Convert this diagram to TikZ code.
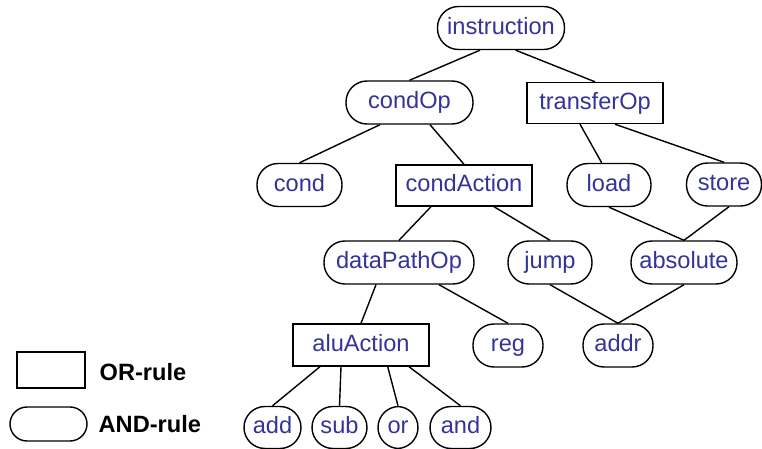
\documentclass[tikz,border=0pt]{standalone}
\usepackage{fontspec}
\setmainfont{Liberation Sans}
\usepackage{xcolor}
\usepackage{tikz}
\usetikzlibrary{positioning}
\definecolor{rulename}{RGB}{51,51,153}

\begin{document}
\begin{tikzpicture}[x=0.5pt, y=-0.5pt, line width=0.7pt,
    rulebox/.style={draw=black, inner sep=0pt, text=rulename,
        font=\fontsize{11.8}{14}\selectfont, text height=8.6pt, text depth=2.4pt},
    andnode/.style={rulebox, rounded corners=10.5pt, minimum height=21.5pt},
    ornode/.style={rulebox, minimum height=20.5pt},
    legendtext/.style={font=\fontsize{11.8}{14}\selectfont\bfseries, anchor=west, inner sep=0pt}]
    \useasboundingbox (0,0) rectangle (762,449);

    % rule nodes, top to bottom
    \node[andnode, minimum width=63.5pt] (instr)      at (501,28)      {instruction};
    \node[andnode, minimum width=63.5pt] (condOp)     at (409.5,102.5) {condOp};
    \node[ornode,  minimum width=68pt]   (transferOp) at (595,103)     {transferOp};

    \node[andnode, minimum width=42.5pt] (cond)       at (299.5,185)   {cond};
    \node[ornode,  minimum width=68pt]   (condAction) at (464,185.5)   {condAction};
    \node[andnode, minimum width=42pt]   (load)       at (609,185)     {load};
    \node[andnode, minimum width=37.5pt] (store)      at (724,184.5)   {store};

    \node[andnode, minimum width=75pt]   (dataPathOp) at (399,262.5)   {dataPathOp};
    \node[andnode, minimum width=42pt]   (jump)       at (550,262.5)   {jump};
    \node[andnode, minimum width=53pt]   (absolute)   at (684,262.5)   {absolute};

    \node[ornode,  minimum width=68pt, minimum height=21pt] (aluAction) at (361,345) {aluAction};
    \node[andnode, minimum width=35pt]   (reg)        at (508,345.5)   {reg};
    \node[andnode, minimum width=35pt]   (addr)       at (618,345.5)   {addr};

    \node[andnode, minimum width=28.5pt, minimum height=21pt] (add) at (272.5,427.5) {add};
    \node[andnode, minimum width=27.5pt, minimum height=21pt] (sub) at (339.5,427.5) {sub};
    \node[andnode, minimum width=20pt,   minimum height=21pt] (or)  at (398,427.5)   {or};
    \node[andnode, minimum width=30.5pt, minimum height=21pt] (and) at (460.5,427.5) {and};

    % connectors
    \draw ([xshift=-10.5pt]instr.south)     -- (condOp.north);
    \draw ([xshift=7.35pt]instr.south)      -- (transferOp.north);
    \draw ([xshift=-14.75pt]condOp.south)   -- (cond.north);
    \draw ([xshift=10.25pt]condOp.south)    -- (condAction.north);
    \draw ([xshift=-7.5pt]transferOp.south) -- ([xshift=-3.65pt]load.north);
    \draw ([xshift=10pt]transferOp.south)   -- (store.north);
    \draw ([xshift=-16.5pt]condAction.south) -- (dataPathOp.north);
    \draw ([xshift=15pt]condAction.south)   -- (jump.north);
    \draw (load.south)                      -- (absolute.north);
    \draw ([xshift=2.5pt]store.south)       -- (absolute.north);
    \draw ([xshift=-11.5pt]dataPathOp.south) -- (aluAction.north);
    \draw ([xshift=20pt]dataPathOp.south)   -- (reg.north);
    \draw (jump.south)                      -- (addr.north);
    \draw (absolute.south)                  -- (addr.north);
    \draw ([xshift=-20.5pt]aluAction.south) -- (add.north);
    \draw ([xshift=-10pt]aluAction.south)   -- (sub.north);
    \draw ([xshift=13.35pt]aluAction.south) -- (or.north);
    \draw ([xshift=24pt]aluAction.south)    -- (and.north);

    % legend
    \node[draw, inner sep=0pt, minimum width=34pt, minimum height=18pt] (orkey) at (51,370) {};
    \node[draw, inner sep=0pt, rounded corners=8.5pt, minimum width=38.5pt, minimum height=17pt] (andkey) at (48.5,424) {};
    \node[legendtext] (orlabel)  at (99,372) {OR-rule};
    \node[legendtext] (andlabel) at (98,424) {AND-rule};
\end{tikzpicture}
\end{document}
